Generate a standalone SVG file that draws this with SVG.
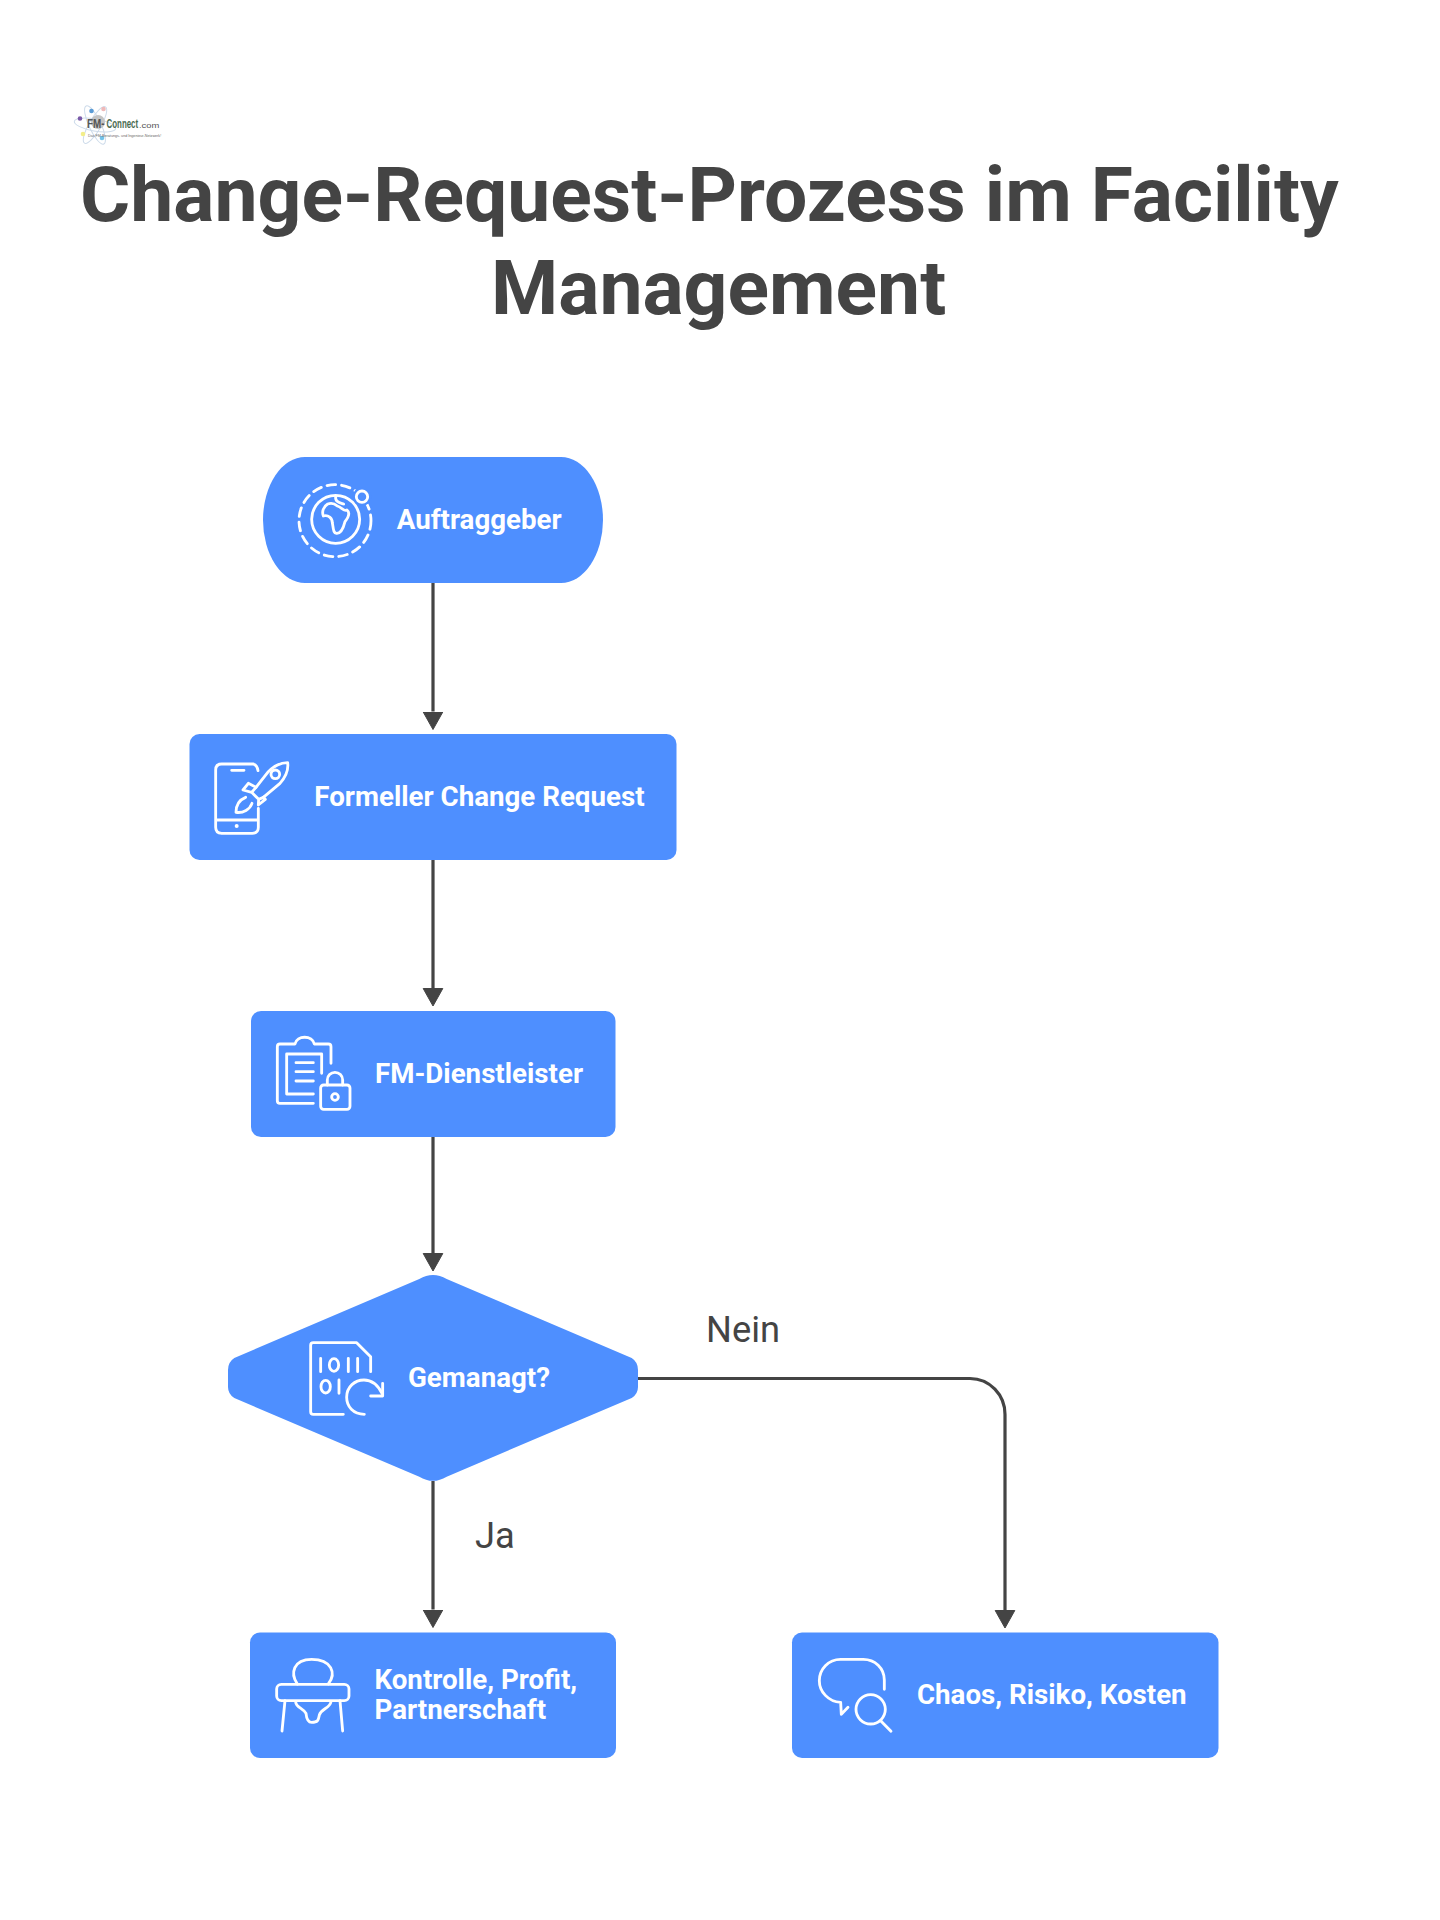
<svg xmlns="http://www.w3.org/2000/svg" width="1440" height="1920" viewBox="0 0 1440 1920">
<defs>
<marker id="arrow" markerUnits="userSpaceOnUse" markerWidth="22" markerHeight="24" viewBox="0 -12 22 24" refX="0" refY="0" orient="auto">
<path d="M0.500,-9.800 L18,0 L0.500,9.800 Z" fill="#444" stroke="#444" stroke-width="1" stroke-linejoin="round"/>
</marker>
</defs>
<style>
.bg{fill:#fff}
.node{fill:#4e8fff}
.lbl{font-family:Roboto,"Liberation Sans",sans-serif;font-weight:700;font-size:27.700px;fill:#fff}
.title{font-family:Roboto,"Liberation Sans",sans-serif;font-weight:700;font-size:76.850px;fill:#444}
.edge{font-family:Roboto,"Liberation Sans",sans-serif;font-weight:400;font-size:36.300px;fill:#444}
.conn{fill:none;stroke:#444;stroke-width:3.200;marker-end:url(#arrow)}
.ic{fill:none;stroke:#fff;stroke-width:8.500;stroke-linecap:round;stroke-linejoin:round}
.orb{fill:none;stroke:#cddbea;stroke-width:1}
</style>
<rect class="bg" width="1440" height="1920"/>
<g id="logo">
<ellipse class="orb" cx="95" cy="125" rx="21" ry="6" transform="rotate(65 95 125)"/>
<ellipse class="orb" cx="95" cy="125" rx="21" ry="6" transform="rotate(-60 95 125)"/>
<ellipse class="orb" cx="95" cy="125" rx="21" ry="6" transform="rotate(10 95 125)"/>
<circle cx="98" cy="122" r="7" fill="#c4c4c4"/>
<circle cx="80" cy="118.500" r="2.300" fill="#7a5aa8"/>
<circle cx="91.500" cy="111" r="2.300" fill="#5a9bd5"/>
<circle cx="103.500" cy="109" r="2.300" fill="#efb9b9"/>
<circle cx="83" cy="134" r="2.300" fill="#f3ee8a"/>
<circle cx="102" cy="138" r="2.300" fill="#72c3ea"/>
<text transform="translate(87,128) scale(.82,1)" font-family="'Liberation Sans',sans-serif" font-size="12" font-weight="700" fill="#555">FM-</text>
<text transform="translate(106.500,128) scale(.66,1)" font-family="'Liberation Sans',sans-serif" font-size="12" font-weight="700" fill="#4a6a50">Connect</text>
<text transform="translate(139,127.500) scale(1.45,1)" font-family="'Liberation Sans',sans-serif" font-size="6.500" fill="#555">.com</text>
<text transform="translate(88,137) scale(.97,1)" font-family="'Liberation Sans',sans-serif" font-size="3.800" fill="#666">Das FM-Beratungs- und Ingenieur-Netzwerk!</text>
</g>
<g id="title">
<text class="title" x="80" y="221">Change-Request-Prozess im Facility</text>
<text class="title" x="491" y="313.500">Management</text>
</g>
<g id="connectors">
<path class="conn" d="M433,583 V711.500"/>
<path class="conn" d="M433,860 V988"/>
<path class="conn" d="M433,1137 V1253"/>
<path class="conn" d="M433,1481 V1609.500"/>
<path class="conn" d="M638,1378.500 H970 A35,36 0 0 1 1005,1415 V1610"/>
</g>
<g id="node-auftraggeber">
<rect class="node" x="263" y="457" width="340" height="126" rx="42" ry="63"/>
<g transform="translate(295,480) scale(.3333)">
<circle class="ic" cx="120" cy="122" r="108" stroke-dasharray="26 18"/>
<circle class="ic" cx="122" cy="118" r="72"/>
<circle cx="201" cy="50" r="28" fill="#4e8fff"/>
<circle class="ic" cx="201" cy="50" r="17"/>
<path class="ic" d="M98,72 C85,80 80,95 85,108 C100,104 112,114 112,128 C115,145 115,162 126,160 C136,160 145,145 150,125 C160,112 166,98 156,90 C148,96 140,82 127,78 C118,70 108,68 98,72 Z"/>
<path class="ic" d="M122,50 C120,66 134,68 146,72"/>
</g>
<text class="lbl" x="396.700" y="528.500">Auftraggeber</text>
</g>
<g id="node-change-request">
<rect class="node" x="189.500" y="734" width="487" height="126" rx="10"/>
<g transform="translate(200,750) scale(.3333)">
<path class="ic" d="M160,42 H65 Q47,42 47,60 V232 Q47,250 65,250 H157 Q175,250 175,232 V175 M50,210 H175 M95,61 H132 M160,42 Q172,46 174,62"/>
<circle cx="110" cy="228" r="6" fill="#fff"/>
<path class="ic" d="M168,112 L205,65 C225,45 248,38 263,38 C266,60 256,82 240,100 L190,142"/>
<circle class="ic" cx="226" cy="73" r="13"/>
<path class="ic" d="M168,112 L145,100 L129,120 L155,127 L176,148 L175,165 L196,148 L190,142 M155,127 L168,112 M176,148 L190,142"/>
<path class="ic" d="M137,142 C122,148 108,162 108,187 C130,190 150,178 156,160"/>
</g>
<text class="lbl" x="314.300" y="805.500">Formeller Change Request</text>
</g>
<g id="node-dienstleister">
<rect class="node" x="251" y="1011" width="364.500" height="126" rx="10"/>
<g transform="translate(220,1000) scale(.3333)">
<path class="ic" d="M280,310 H180 Q172,310 172,302 V140 Q172,132 180,132 H225 C230,105 278,105 283,132 H325 Q333,132 333,140 V190"/>
<path class="ic" d="M280,282 H200 V162 H305 V220"/>
<path class="ic" d="M228,188 H280 M228,215 H280 M228,243 H280"/>
<rect class="ic" x="302" y="255" width="88" height="73" rx="9"/>
<path class="ic" d="M322,255 V240 A23,23 0 0 1 368,240 V255"/>
<circle class="ic" cx="345" cy="291" r="10"/>
</g>
<text class="lbl" x="375" y="1082.500">FM-Dienstleister</text>
</g>
<g id="node-gemanagt">
<path class="node" d="M419.300,1279 Q433,1271 446.700,1279 L631.700,1358 Q638,1362 638,1370 V1387 Q638,1394 631.700,1398 L446.700,1476.700 Q433,1485 419.300,1476.700 L234.300,1398 Q228,1394 228,1387 V1370 Q228,1362 234.300,1358 Z"/>
<g transform="translate(220,1000) scale(.3333)">
<path class="ic" d="M370,1243 H280 Q272,1243 272,1235 V1036 Q272,1028 280,1028 H410 L452,1070 V1115"/>
<path class="ic" d="M302,1075 V1115 M385,1075 V1115 M413,1075 V1115 M357,1140 V1180"/>
<ellipse class="ic" cx="342" cy="1095" rx="14" ry="19"/>
<ellipse class="ic" cx="317" cy="1160" rx="14" ry="19"/>
<path class="ic" d="M433,1243 C400,1243 380,1220 380,1192 C380,1160 405,1140 432,1140 C455,1140 472,1152 486,1180"/>
<path class="ic" d="M488,1150 V1188 H452"/>
</g>
<text class="lbl" x="408" y="1387">Gemanagt?</text>
</g>
<g id="node-kontrolle">
<rect class="node" x="250" y="1632.500" width="366" height="125.500" rx="10"/>
<g transform="translate(240,1620) scale(.3333)">
<path class="ic" d="M172,192 C150,160 160,118 215,118 C275,118 290,160 265,192"/>
<rect class="ic" x="110" y="193" width="217" height="49" rx="14"/>
<path class="ic" d="M135,242 L126,333 M300,242 L308,333"/>
<path class="ic" d="M167,245 C167,262 190,265 198,280 C200,300 205,307 215,307 C235,307 235,300 238,285 C245,265 270,265 273,245"/>
</g>
<text class="lbl" x="374.500" y="1688.500">Kontrolle, Profit,</text>
<text class="lbl" x="374.500" y="1719">Partnerschaft</text>
</g>
<g id="node-chaos">
<rect class="node" x="792" y="1632.500" width="426.500" height="125.500" rx="10"/>
<g transform="translate(780,1620) scale(.3333)">
<path class="ic" d="M313,208 V180 C313,145 285,118 250,118 H182 C145,118 118,148 118,182 C118,215 145,245 182,247 L184,283 L204,262"/>
<circle class="ic" cx="272" cy="268" r="44"/>
<path class="ic" d="M302,302 L333,334"/>
</g>
<text class="lbl" x="917" y="1704">Chaos, Risiko, Kosten</text>
</g>
<g id="edge-labels">
<text class="edge" x="706" y="1342">Nein</text>
<text class="edge" x="475" y="1548">Ja</text>
</g>
</svg>
